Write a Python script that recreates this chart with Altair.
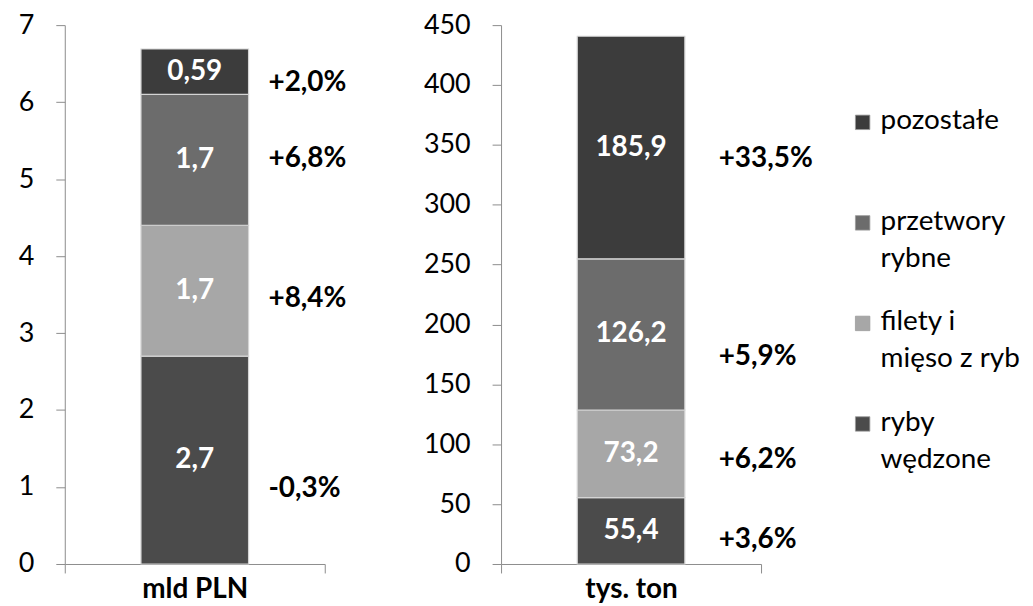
import altair as alt
import pandas as pd

segments = ["ryby wędzone", "filety i mięso z ryb", "przetwory rybne", "pozostałe"]
colors = ["#4b4b4b", "#a7a7a7", "#6c6c6c", "#3c3c3c"]

pln_values = [2.7, 1.7, 1.7, 0.59]
pln_labels = ["2,7", "1,7", "1,7", "0,59"]
pln_change = ["-0,3%", "+8,4%", "+6,8%", "+2,0%"]
pln_change_pos = [0.97, 3.44, 5.26, 6.25]

ton_values = [55.4, 73.2, 126.2, 185.9]
ton_labels = ["55,4", "73,2", "126,2", "185,9"]
ton_change = ["+3,6%", "+6,2%", "+5,9%", "+33,5%"]
ton_change_pos = [20, 87, 173, 338]

legend_order = ["pozostałe", "przetwory rybne", "filety i mięso z ryb", "ryby wędzone"]
legend_text = ["pozostałe", "przetwory\nrybne", "filety i\nmięso z ryb", "ryby\nwędzone"]

FONT = "Lato"
AX = "#8c8c8c"
color_scale = alt.Scale(domain=segments, range=colors)


def panel(unit, values, labels, changes, change_pos, ymax, step, dx):
    df = pd.DataFrame({
        "unit": unit,
        "segment": segments,
        "idx": list(range(len(segments))),
        "value": values,
        "label": labels,
        "change": changes,
        "cpos": change_pos,
    })
    xenc = alt.X("unit:N", title=None,
                 scale=alt.Scale(paddingInner=0, paddingOuter=0),
                 axis=alt.Axis(tickBand="extent", tickSize=9, labelFontSize=28,
                               labelFontWeight="bold", labelPadding=3, labelAngle=0,
                               grid=False, domainColor=AX, tickColor=AX,
                               labelColor="#000000", labelFont=FONT))
    yscale = alt.Scale(domain=[0, ymax], nice=False)
    yaxis = alt.Axis(values=list(range(0, int(ymax) + 1, step)), format="d", grid=False,
                     tickSize=9, labelPadding=22, labelFontSize=27, domainColor=AX,
                     tickColor=AX, labelColor="#000000", labelFont=FONT, title=None)
    base = alt.Chart(df).transform_stack(
        stack="value", groupby=["unit"], as_=["y0", "y1"],
        sort=[alt.SortField("idx", order="ascending")]
    ).transform_calculate(mid="(datum.y0 + datum.y1) / 2")
    bars = base.mark_bar(size=108, stroke="#d4d4d4", strokeWidth=1.2).encode(
        x=xenc,
        y=alt.Y("y0:Q", scale=yscale, axis=yaxis),
        y2="y1:Q",
        color=alt.Color("segment:N", scale=color_scale, legend=None),
    )
    inner = base.mark_text(color="white", fontWeight="bold", fontSize=28, font=FONT).encode(
        x="unit:N", y=alt.Y("mid:Q"), text="label:N")
    outer = base.mark_text(color="black", fontWeight="bold", fontSize=28, font=FONT,
                           align="left", dx=dx).encode(
        x="unit:N", y=alt.Y("cpos:Q"), text="change:N")
    return alt.layer(bars, inner, outer).properties(width=261, height=541)


left = panel("mld PLN", pln_values, pln_labels, pln_change, pln_change_pos, 7, 1, 74)
right = panel("tys. ton", ton_values, ton_labels, ton_change, ton_change_pos, 450, 50, 88)

leg_df = pd.DataFrame({"segment": legend_order, "text": legend_text})
ly = alt.Y("segment:N", sort=legend_order, axis=None,
           scale=alt.Scale(type="point", domain=legend_order, padding=0.967))
leg_sq = alt.Chart(leg_df).mark_square(size=210, stroke="#9a9a9a", strokeWidth=0.8,
                                       opacity=1).encode(
    x=alt.value(-75), y=ly,
    color=alt.Color("segment:N", scale=color_scale, legend=None))
leg_tx = alt.Chart(leg_df).mark_text(align="left", baseline="top", dy=-15, fontSize=28,
                                     font=FONT, lineBreak="\n", lineHeight=37,
                                     color="black").encode(
    x=alt.value(-57), y=ly, text="text:N")
legend = alt.layer(leg_sq, leg_tx).properties(width=80, height=498)

chart = alt.hconcat(left, right, legend, spacing=177, bounds="flush").properties(
    padding={"left": 10, "top": 2, "right": 5, "bottom": 5},
    background="white",
).configure(font=FONT).configure_view(strokeWidth=0, stroke="transparent")

chart.save("out.html", embed_options={"renderer": "svg", "actions": False})
